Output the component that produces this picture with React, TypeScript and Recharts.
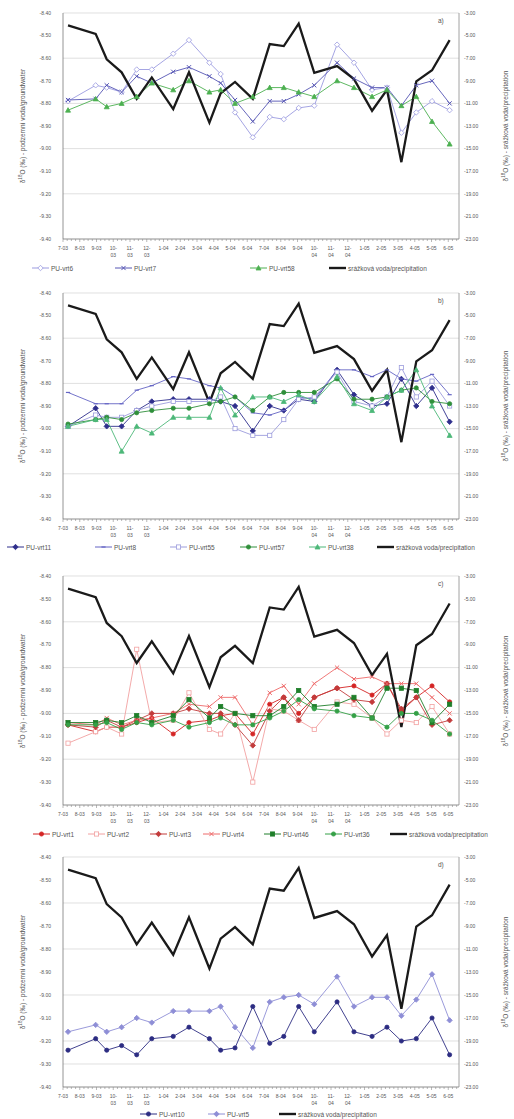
import { LineChart, Line, XAxis, YAxis, CartesianGrid } from 'recharts'

// sampling dates, in months counted from 1 July 2003
const sampleMonth = [0.3, 1.95, 2.61, 3.5, 4.4, 5.3, 6.58, 7.52, 8.74, 9.41, 10.27, 11.33, 12.34, 13.18, 14.07, 15.0, 16.36, 17.37, 18.45, 19.34, 20.2, 21.09, 22.03, 23.08]
const monthLabels = ['7-03', '8-03', '9-03', '10-03', '11-03', '12-03', '1-04', '2-04', '3-04', '4-04', '5-04', '6-04', '7-04', '8-04', '9-04', '10-04', '11-04', '12-04', '1-05', '2-05', '3-05', '4-05', '5-05', '6-05']
const leftTicks = [-9.4, -9.3, -9.2, -9.1, -9.0, -8.9, -8.8, -8.7, -8.6, -8.5, -8.4]
const rightTicks = [-23, -21, -19, -17, -15, -13, -11, -9, -7, -5, -3]

// srážky (right axis)
const precipitation = [-4.1, -4.85, -7.1, -8.25, -10.6, -8.7, -11.5, -8.25, -12.7, -10.1, -9.1, -10.6, -5.75, -5.93, -3.95, -8.3, -7.7, -8.85, -11.65, -9.8, -16.2, -9.05, -8.07, -5.4]

// a)
const vrt6 = [-8.79, -8.72, -8.73, -8.75, -8.65, -8.65, -8.58, -8.52, -8.62, -8.67, -8.84, -8.95, -8.86, -8.87, -8.82, -8.81, -8.54, -8.62, -8.74, -8.73, -8.93, -8.84, -8.79, -8.83]
const vrt7 = [-8.785, -8.78, -8.72, -8.75, -8.68, -8.71, -8.66, -8.64, -8.68, -8.71, -8.785, -8.88, -8.79, -8.79, -8.76, -8.72, -8.62, -8.69, -8.73, -8.73, -8.81, -8.72, -8.7, -8.8]
const vrt58 = [-8.83, -8.78, -8.815, -8.8, -8.77, -8.71, -8.74, -8.7, -8.75, -8.74, -8.8, -8.77, -8.73, -8.73, -8.75, -8.77, -8.7, -8.73, -8.77, -8.74, -8.81, -8.77, -8.88, -8.98]

// b)
const vrt11 = [-8.99, -8.91, -8.99, -8.99, -8.92, -8.88, -8.87, -8.87, -8.87, -8.88, -8.9, -9.01, -8.9, -8.92, -8.87, -8.88, -8.74, -8.85, -8.9, -8.89, -8.78, -8.9, -8.82, -8.97]
const vrt8 = [-8.84, -8.89, -8.89, -8.89, -8.83, -8.81, -8.77, -8.78, -8.81, -8.82, -8.86, -8.93, -8.94, -8.92, -8.86, -8.87, -8.74, -8.74, -8.77, -8.74, -8.78, -8.79, -8.76, -8.85]
const vrt55 = [-8.99, -8.94, -8.95, -8.95, -8.92, -8.9, -8.88, -8.88, -8.88, -8.86, -9.0, -9.03, -9.03, -8.96, -8.87, -8.86, -8.75, -8.88, -8.9, -8.86, -8.73, -8.86, -8.79, -8.9]
const vrt57 = [-8.98, -8.96, -8.95, -8.96, -8.93, -8.92, -8.91, -8.91, -8.89, -8.88, -8.86, -8.92, -8.86, -8.84, -8.84, -8.84, -8.78, -8.87, -8.87, -8.86, -8.83, -8.82, -8.88, -8.89]
const vrt38 = [-8.99, -8.96, -8.96, -9.1, -8.99, -9.02, -8.95, -8.95, -8.95, -8.82, -8.94, -8.86, -8.86, -8.88, -8.85, -8.88, -8.77, -8.89, -8.92, -8.86, -8.83, -8.74, -8.9, -9.03]

// c)
const vrt1 = [-9.05, -9.08, -9.06, -9.06, -9.04, -9.02, -9.09, -9.04, -9.03, -9.01, -9.0, -9.09, -8.96, -8.93, -9.0, -8.93, -8.89, -8.88, -8.92, -8.87, -8.99, -8.93, -8.88, -8.95]
const vrt2 = [-9.13, -9.08, -9.06, -9.09, -8.72, -9.04, -9.03, -8.91, -9.07, -9.09, -9.0, -9.3, -8.98, -8.99, -9.03, -9.07, -8.95, -8.96, -9.02, -9.09, -9.03, -9.04, -8.97, -9.09]
const vrt3 = [-9.05, -9.06, -9.03, -9.06, -9.03, -9.0, -9.0, -8.98, -9.0, -9.0, -9.05, -9.14, -8.99, -8.93, -9.03, -8.93, -8.89, -8.94, -8.95, -8.87, -8.98, -8.93, -9.05, -9.03]
const vrt4 = [-9.04, -9.05, -9.02, -9.05, -9.03, -9.02, -9.0, -8.96, -8.97, -8.93, -8.93, -9.05, -8.91, -8.88, -8.96, -8.87, -8.8, -8.85, -8.84, -8.87, -8.87, -8.87, -8.93, -9.0]
const vrt46 = [-9.04, -9.04, -9.03, -9.04, -9.01, -9.04, -9.01, -8.94, -9.02, -8.97, -9.0, -9.01, -9.01, -8.97, -8.9, -8.97, -8.96, -8.93, -9.02, -8.89, -8.89, -8.9, -9.04, -8.96]
const vrt36 = [-9.05, -9.05, -9.04, -9.07, -9.04, -9.05, -9.03, -9.06, -9.04, -9.02, -9.05, -9.05, -9.02, -8.99, -8.94, -8.98, -8.99, -9.01, -9.02, -9.06, -9.0, -9.0, -9.03, -9.09]

// d)
const vrt10 = [-9.24, -9.19, -9.24, -9.22, -9.26, -9.19, -9.18, -9.14, -9.19, -9.24, -9.23, -9.05, -9.21, -9.18, -9.05, -9.16, -9.03, -9.16, -9.18, -9.14, -9.2, -9.19, -9.1, -9.26]
const vrt5 = [-9.16, -9.13, -9.16, -9.14, -9.1, -9.12, -9.07, -9.07, -9.07, -9.05, -9.14, -9.23, -9.03, -9.01, -9.0, -9.04, -8.92, -9.05, -9.01, -9.01, -9.09, -9.02, -8.91, -9.11]

type Shape = 'circle' | 'diamond' | 'square' | 'triangle' | 'cross' | 'dash'
type Series = { name: string; values: number[]; color: string; shape: Shape; open?: boolean }

const FONT = '"Liberation Sans", Arial, sans-serif'

const Marker = ({ shape, x, y, color, open }: { shape: Shape; x: number; y: number; color: string; open?: boolean }) => {
  const fill = open ? '#ffffff' : color
  const r = 2.1
  if (shape === 'circle') return <circle cx={x} cy={y} r={r} fill={fill} stroke={color} strokeWidth={0.8} />
  if (shape === 'diamond') {
    const d = r + 0.6
    return <polygon points={`${x},${y - d} ${x + d},${y} ${x},${y + d} ${x - d},${y}`} fill={fill} stroke={color} strokeWidth={0.8} />
  }
  if (shape === 'square') return <rect x={x - r} y={y - r} width={r * 2} height={r * 2} fill={fill} stroke={color} strokeWidth={0.8} />
  if (shape === 'triangle') {
    const d = r + 0.4
    return <polygon points={`${x},${y - d} ${x + d},${y + d * 0.8} ${x - d},${y + d * 0.8}`} fill={fill} stroke={color} strokeWidth={0.8} />
  }
  if (shape === 'cross') {
    return (
      <g stroke={color} strokeWidth={1}>
        <line x1={x - r} y1={y - r} x2={x + r} y2={y + r} />
        <line x1={x - r} y1={y + r} x2={x + r} y2={y - r} />
      </g>
    )
  }
  return <line x1={x - r} y1={y} x2={x + r} y2={y} stroke={color} strokeWidth={1.2} />
}

const MonthTick = (props: any) => {
  const { x, y, payload } = props
  const v = payload.value as number
  const idx = Math.round(v)
  const major = Math.abs(v - idx) < 1e-6
  const label = major ? monthLabels[idx] : ''
  const parts = label && label.split('-')[0].length > 1 ? [label.split('-')[0] + '-', label.split('-')[1]] : [label]
  return (
    <g>
      <line x1={x} x2={x} y1={y} y2={y + (major ? 3 : 2)} stroke='#8a8a8a' strokeWidth={0.6} />
      {major && parts.map((t, k) => (
        <text key={k} x={x} y={y + 11 + k * 7} textAnchor='middle' fontSize={5} fill='#555' fontFamily={FONT}>{t}</text>
      ))}
    </g>
  )
}

const xTicks = Array.from({ length: 95 }, (_, i) => i * 0.25)

type PanelProps = {
  top: number
  height: number
  plotTop: number
  plotBottom: number
  letter: string
  series: Series[]
  legendY: number
  legendX: number[]
}

const Panel = ({ top, height, plotTop, plotBottom, letter, series, legendY, legendX }: PanelProps) => {
  const data = sampleMonth.map((m, i) => {
    const row: Record<string, number> = { m, precip: precipitation[i] }
    series.forEach((s, k) => { row['s' + k] = s.values[i] })
    return row
  })
  const items = [...series.map(s => ({ name: s.name, color: s.color, shape: s.shape as Shape | null, open: s.open, w: 1 })),
    { name: 'srážková voda/precipitation', color: '#1a1a1a', shape: null, open: false, w: 2.4 }]
  const midY = (plotTop + plotBottom) / 2
  return (
    <div style={{ position: 'absolute', left: 0, top, width: 514, height, fontFamily: FONT }}>
      <LineChart width={514} height={height} data={data} margin={{ top: plotTop, right: 10, left: 23, bottom: height - plotBottom - 30 }}>
        <CartesianGrid yAxisId='left' vertical={false} stroke='#d2d2d2' strokeWidth={0.7} />
        <XAxis dataKey='m' type='number' domain={[0, 23.64]} ticks={xTicks} interval={0} height={30}
          tick={<MonthTick />} tickLine={false} tickSize={0} tickMargin={0} axisLine={{ stroke: '#8a8a8a', strokeWidth: 0.8 }} />
        <YAxis yAxisId='left' domain={[-9.4, -8.4]} ticks={leftTicks} width={40} tickSize={0} tickMargin={12}
          tickFormatter={(v: number) => v.toFixed(2)} tick={{ fontSize: 5, fill: '#555', fontFamily: FONT }}
          axisLine={{ stroke: '#7a7a7a', strokeWidth: 0.8 }} tickLine={false} allowDataOverflow />
        <YAxis yAxisId='right' orientation='right' domain={[-23, -3]} ticks={rightTicks} width={45} tickSize={0} tickMargin={5}
          tickFormatter={(v: number) => v.toFixed(2)} tick={{ fontSize: 5, fill: '#555', fontFamily: FONT, textAnchor: 'start' }}
          axisLine={{ stroke: '#8a8a8a', strokeWidth: 0.8 }} tickLine={false} allowDataOverflow />
        {series.map((s, k) => (
          <Line key={s.name} yAxisId='left' dataKey={'s' + k} stroke={s.color} strokeWidth={0.9} isAnimationActive={false}
            dot={(p: any) => <Marker key={p.index} shape={s.shape} x={p.cx} y={p.cy} color={s.color} open={s.open} />}
            activeDot={false} />
        ))}
        <Line yAxisId='right' dataKey='precip' stroke='#1a1a1a' strokeWidth={2.3} dot={false} activeDot={false} isAnimationActive={false} />
      </LineChart>
      <div style={{ position: 'absolute', left: 22, top: midY, transform: 'translate(-50%, -50%) rotate(-90deg)', whiteSpace: 'nowrap', fontSize: 6.5, color: '#555' }}>
        δ<sup style={{ fontSize: 4.5 }}>18</sup>O (‰) - podzemní voda/groundwater
      </div>
      <div style={{ position: 'absolute', left: 505, top: midY, transform: 'translate(-50%, -50%) rotate(-90deg)', whiteSpace: 'nowrap', fontSize: 6.5, color: '#555' }}>
        δ<sup style={{ fontSize: 4.5 }}>18</sup>O (‰) - srážková voda/precipitation
      </div>
      <div style={{ position: 'absolute', left: 438, top: plotTop + 4, fontSize: 6.5, color: '#555' }}>{letter}</div>
      {items.map((it, k) => (
        <div key={it.name} style={{ position: 'absolute', left: legendX[k], top: legendY - 5, height: 10, display: 'flex', alignItems: 'center', whiteSpace: 'nowrap', fontSize: 6.5, color: '#555' }}>
          <svg width={17} height={8} style={{ marginRight: 2 }}>
            <line x1={0} x2={17} y1={4} y2={4} stroke={it.color} strokeWidth={it.w} />
            {it.shape && <Marker shape={it.shape} x={8.5} y={4} color={it.color} open={it.open} />}
          </svg>
          <span>{it.name}</span>
        </div>
      ))}
    </div>
  )
}

const panelA: Series[] = [
  { name: 'PU-vrt6', values: vrt6, color: '#9b9be0', shape: 'diamond', open: true },
  { name: 'PU-vrt7', values: vrt7, color: '#5656b4', shape: 'cross' },
  { name: 'PU-vrt58', values: vrt58, color: '#4cb050', shape: 'triangle' }
]
const panelB: Series[] = [
  { name: 'PU-vrt11', values: vrt11, color: '#2e2e8c', shape: 'diamond' },
  { name: 'PU-vrt8', values: vrt8, color: '#6464c4', shape: 'dash' },
  { name: 'PU-vrt55', values: vrt55, color: '#9c9cdc', shape: 'square', open: true },
  { name: 'PU-vrt57', values: vrt57, color: '#2f8f3a', shape: 'circle' },
  { name: 'PU-vrt38', values: vrt38, color: '#4cb878', shape: 'triangle' }
]
const panelC: Series[] = [
  { name: 'PU-vrt1', values: vrt1, color: '#d42424', shape: 'circle' },
  { name: 'PU-vrt2', values: vrt2, color: '#f2a0a0', shape: 'square', open: true },
  { name: 'PU-vrt3', values: vrt3, color: '#c23b3b', shape: 'diamond' },
  { name: 'PU-vrt4', values: vrt4, color: '#ee6a6a', shape: 'cross' },
  { name: 'PU-vrt46', values: vrt46, color: '#1f7f2a', shape: 'square' },
  { name: 'PU-vrt36', values: vrt36, color: '#34a046', shape: 'circle' }
]
const panelD: Series[] = [
  { name: 'PU-vrt10', values: vrt10, color: '#2c2c82', shape: 'circle' },
  { name: 'PU-vrt5', values: vrt5, color: '#8e8ed6', shape: 'diamond' }
]

export default function App() {
  return (
    <div style={{ position: 'absolute', left: 0, top: 0, width: 514, height: 1119, background: '#ffffff', overflow: 'hidden' }}>
      <Panel top={0} height={280} plotTop={13} plotBottom={239} letter='a)' series={panelA} legendY={268} legendX={[32, 115, 250, 329]} />
      <Panel top={280} height={280} plotTop={13} plotBottom={239} letter='b)' series={panelB} legendY={267} legendX={[7, 95, 170, 240, 309, 377]} />
      <Panel top={560} height={280} plotTop={16} plotBottom={245} letter='c)' series={panelC} legendY={274} legendX={[33, 88, 150, 203, 264, 325, 390]} />
      <Panel top={840} height={279} plotTop={17} plotBottom={247} letter='d)' series={panelD} legendY={274} legendX={[140, 208, 279]} />
    </div>
  )
}
